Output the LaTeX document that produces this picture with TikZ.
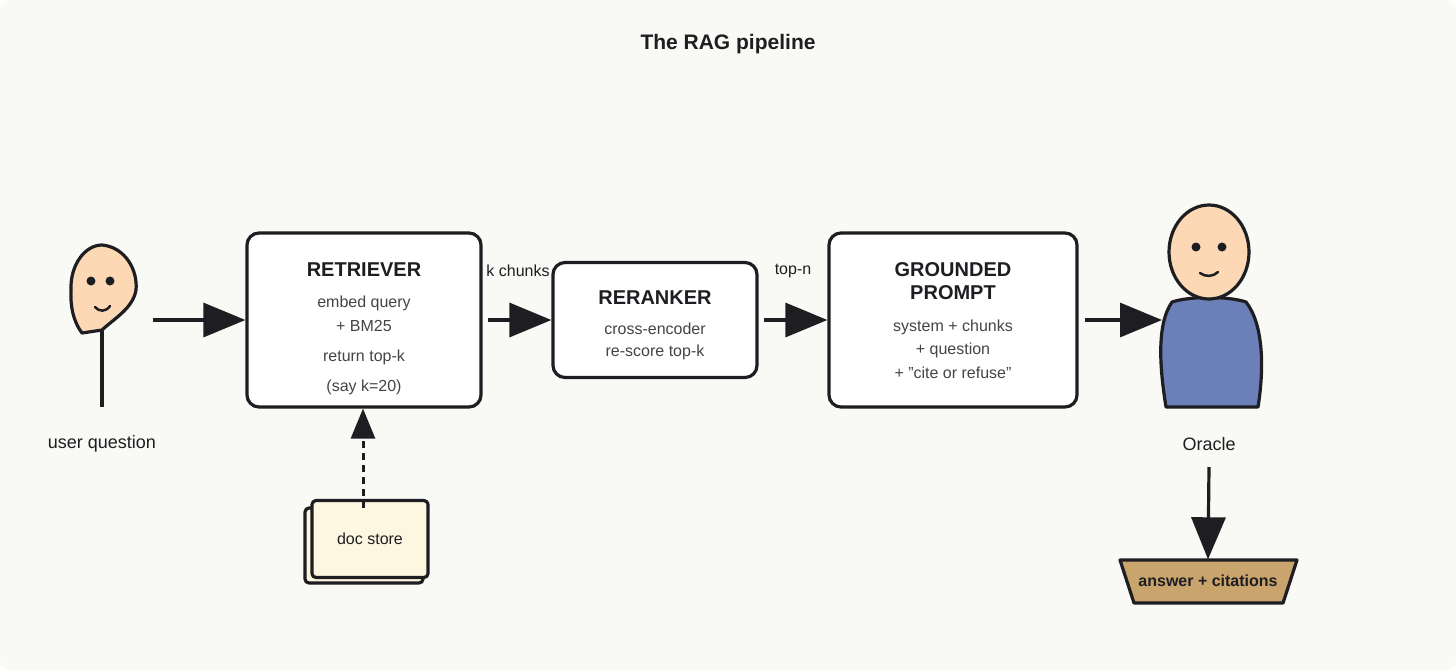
\documentclass[tikz,border=0pt]{standalone}
\usepackage{fontspec}
\setmainfont{Liberation Sans}
\usetikzlibrary{arrows.meta,shapes.geometric}
\definecolor{bg}{HTML}{F9F9F5}
\definecolor{ink}{HTML}{1E1E22}
\definecolor{skin}{HTML}{FDD8B5}
\definecolor{shirt}{HTML}{6B80B8}
\definecolor{paper}{HTML}{FDF6E0}
\definecolor{tan}{HTML}{C9A46C}
\definecolor{sub}{HTML}{444444}
\tikzset{
  box/.style={draw=ink,line width=3.2pt,rounded corners=12pt,fill=white},
  ttl/.style={font=\fontsize{20}{23}\selectfont\bfseries,text=ink},
  sub/.style={font=\fontsize{16}{19}\selectfont,text=sub},
  lbl/.style={font=\fontsize{18}{21}\selectfont,text=ink},
  flow/.style={draw=ink,line width=3.2pt,-{Triangle[length=42pt,width=34pt]}},
  outl/.style={draw=ink,line width=3.2pt,line join=round}
}
\begin{document}
\begin{tikzpicture}[x=1pt,y=-1pt]
\useasboundingbox (0,0) rectangle (1456,670);
\fill[bg,rounded corners=10pt] (0,0) rectangle (1456,670);
\node[font=\fontsize{21}{24}\selectfont\bfseries,text=ink] (title) at (728,44) {The RAG pipeline};
% user
\draw[outl,fill=skin] (102,245) .. controls (125,247) and (138,270) .. (136,290)
  .. controls (133,308) and (115,318) .. (102,330) -- (82,333) .. controls (76,325) and (70,312) .. (71,290)
  .. controls (70,265) and (85,245) .. (102,245) -- cycle;
\fill[ink] (91,281) circle (4.5) (110,281) circle (4.5);
\draw[ink,line width=2.5pt,line cap=round] (95,307) .. controls (99,312) and (106,312) .. (110,306);
\draw[outl] (102,331) -- (102,407);
\coordinate (ustart) at (153,320);
\node[lbl] (ulab) at (102,444) {user question};
% boxes
\node[box,minimum width=234pt,minimum height=174pt] (ret) at (364,320) {};
\node[ttl] at (364,270) {RETRIEVER};
\node[sub] at (364,303) {embed query};
\node[sub] at (364,326) {+ BM25};
\node[sub] at (364,357) {return top-k};
\node[sub] at (364,387) {(say k=20)};
\node[box,minimum width=204pt,minimum height=115pt] (rer) at (655,320) {};
\node[ttl] at (655,298) {RERANKER};
\node[sub] at (655,329) {cross-encoder};
\node[sub] at (655,352) {re-score top-k};
\node[box,minimum width=248pt,minimum height=174pt] (grd) at (953,320) {};
\node[ttl] at (953,270) {GROUNDED};
\node[ttl] at (953,293) {PROMPT};
\node[sub] at (953,327) {system + chunks};
\node[sub] at (953,350) {+ question};
\node[sub] at (953,373) {+ \symbol{34}cite or refuse\symbol{34}};
% arrows
\draw[flow] (ustart) -- (ret.west);
\coordinate (a1) at (488,320);
\draw[flow] (a1) -- (rer.west);
\node[font=\fontsize{16}{19}\selectfont,text=ink] (kch) at (518,271) {k chunks};
\coordinate (a2) at (764,320);
\draw[flow] (a2) -- (grd.west);
\node[font=\fontsize{16}{19}\selectfont,text=ink] (topn) at (793,271) {top-n};
% oracle
\draw[outl,fill=shirt] (1166,407) .. controls (1160,370) and (1156,325) .. (1172,302)
  .. controls (1190,296) and (1228,296) .. (1246,302) .. controls (1264,325) and (1264,370) .. (1258,407) -- cycle;
\draw[outl,fill=skin] (1209,252) ellipse (40 and 47);
\fill[ink] (1196,247) circle (4.5) (1222,247) circle (4.5);
\draw[ink,line width=2.5pt,line cap=round] (1200,273) .. controls (1205,277) and (1213,277) .. (1218,272);
\coordinate (orc) at (1162,320);
\coordinate (a3) at (1085,320);
\draw[flow] (a3) -- (orc);
\node[lbl] (olab) at (1209,444) {Oracle};
\coordinate (o2) at (1209,467);
\draw[outl,fill=tan] (1120,560) -- (1297,560) -- (1283,603) -- (1134,603) -- cycle;
\node[font=\fontsize{16}{19}\selectfont\bfseries,text=ink,minimum height=43pt] (ans) at (1208,581) {answer + citations};
\draw[flow] (o2) -- (ans.north);
% doc store
\draw[outl,fill=paper,rounded corners=4pt] (305,508) rectangle (423,583);
\node[outl,fill=paper,rounded corners=4pt,minimum width=116pt,minimum height=77pt,font=\fontsize{16}{19}\selectfont,text=ink] (doc) at (370,539) {doc store};
\draw[ink,line width=3pt,dash pattern=on 7pt off 5pt,-{Triangle[length=30pt,width=24pt]}] (363,508) -- (ret.south -| 363,0);
\end{tikzpicture}
\end{document}
